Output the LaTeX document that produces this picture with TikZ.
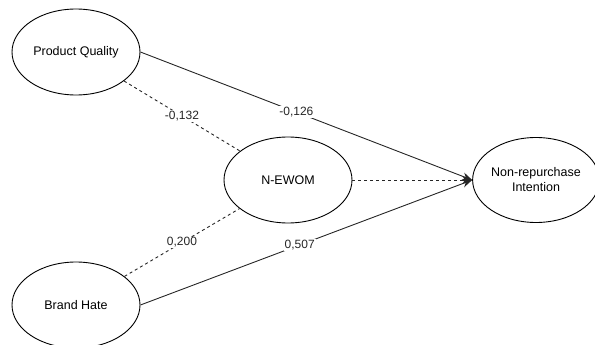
\documentclass[tikz,border=0pt]{standalone}
\usepackage{fontspec}
\setmainfont{Liberation Sans}
\usetikzlibrary{shapes.geometric, arrows.meta}

\begin{document}
\begin{tikzpicture}[
        x=1pt, y=-1pt,
        construct/.style={ellipse, draw=black, line width=0.9pt, fill=white, inner sep=0pt,
            minimum width=128pt, minimum height=86pt, align=center,
            font=\fontsize{12.5}{15}\selectfont},
        coef/.style={fill=white, inner sep=1pt, font=\fontsize{12}{14}\selectfont},
        path/.style={line width=0.9pt, black!85},
        indirect/.style={line width=0.9pt, black!85, dash pattern=on 3pt off 3pt}
    ]
    \useasboundingbox (0,0) rectangle (595,345);

    % Constructs
    \node[construct] (PQ) at (76, 52) {Product Quality};
    \node[construct] (BH) at (76, 305) {Brand Hate};
    \node[construct] (EW) at (288, 180) {N-EWOM};
    \node[construct, minimum width=116pt, minimum height=85pt] (NI) at (536, 180) {Non-repurchase\\Intention};

    % Paths
    \draw[indirect] (PQ) -- node[coef] {-0,132} (EW);
    \draw[indirect] (BH) -- node[coef] {0,200} (EW);
    \draw[indirect, -{Stealth[length=10pt, width=8pt]}] (EW.east) -- (NI.west);
    \draw[path, -{Stealth[length=10pt, width=8pt]}] (PQ.east) -- node[coef, pos=0.47] {-0,126} (NI.west);
    \draw[path, -{Stealth[length=10pt, width=8pt]}] (BH.east) -- node[coef, pos=0.48] {0,507} (NI.west);
\end{tikzpicture}
\end{document}
